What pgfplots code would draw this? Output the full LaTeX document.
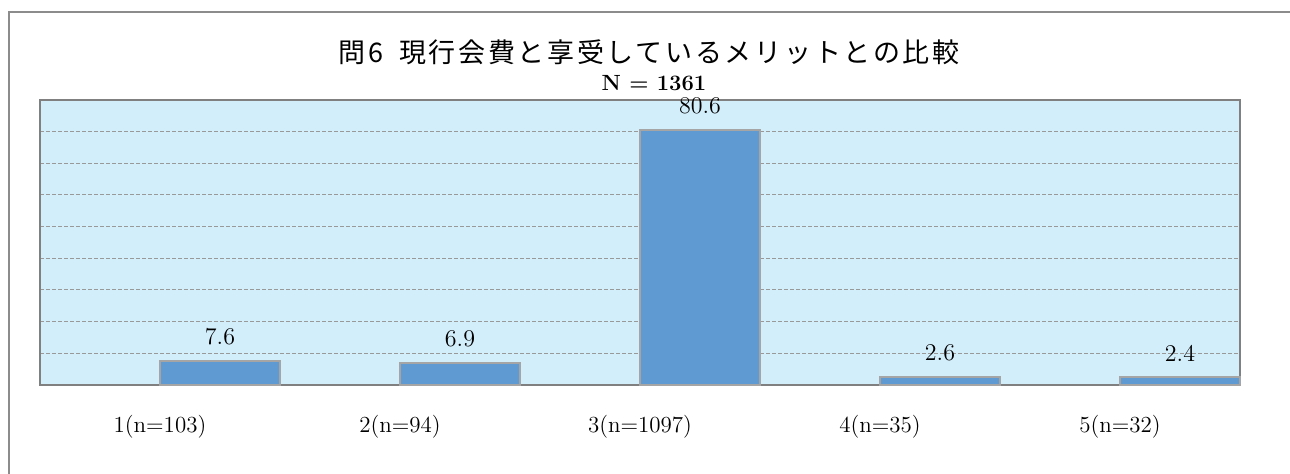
\documentclass[border=0pt]{standalone}
\usepackage{fontspec}
\usepackage{pgfplots}
\pgfplotsset{compat=1.18}
\newfontfamily\jp[LetterSpace=10]{Noto Sans CJK JP}
\definecolor{plotbg}{RGB}{211,238,251}
\definecolor{barfill}{RGB}{95,155,210}
\definecolor{baredge}{RGB}{165,165,165}
\definecolor{framegray}{RGB}{128,128,128}
\definecolor{outergray}{RGB}{140,140,140}
\begin{document}
\begin{tikzpicture}
\useasboundingbox (0,0) rectangle (645pt,237pt);
\draw[outergray, line width=1pt] (4.5pt,0) -- (4.5pt,231pt) -- (645pt,231pt);
\node[anchor=center, inner sep=0pt] at (324.5pt,211pt) {\jp\fontsize{13.5pt}{15pt}\selectfont 問6\hspace{8pt}現行会費と享受しているメリットとの比較};
\node[anchor=center, inner sep=0pt] at (327pt,195.5pt) {\fontsize{11pt}{13pt}\selectfont\bfseries N = 1361};
\begin{axis}[
  at={(20pt,44.5pt)}, anchor=south west,
  width=600pt, height=142.5pt, scale only axis,
  xmin=0, xmax=5, ymin=0, ymax=90,
  axis background/.style={fill=plotbg},
  axis line style={draw=framegray, line width=1pt},
  xtick={0.5,1.5,2.5,3.5,4.5},
  xticklabels={1(n=103),2(n=94),3(n=1097),4(n=35),5(n=32)},
  xticklabel style={anchor=center, yshift=-21pt, font=\fontsize{11.5pt}{13pt}\selectfont},
  ytick={10,20,...,80},
  yticklabels={},
  major tick length=0pt,
  ymajorgrids,
  major grid style={draw=gray!80, dash pattern=on 2pt off 1pt, line width=0.5pt},
  ybar, bar width=0.5, bar shift=0pt,
  nodes near coords,
  nodes near coords style={anchor=center, yshift=12pt, font=\fontsize{11.5pt}{13pt}\selectfont,
    /pgf/number format/.cd, fixed, fixed zerofill, precision=1},
  clip=false,
]
\addplot[fill=barfill, draw=baredge, line width=1pt] coordinates {
  (0.75,7.6) (1.75,6.9) (2.75,80.6) (3.75,2.6) (4.75,2.4)
};
\end{axis}
\end{tikzpicture}
\end{document}
